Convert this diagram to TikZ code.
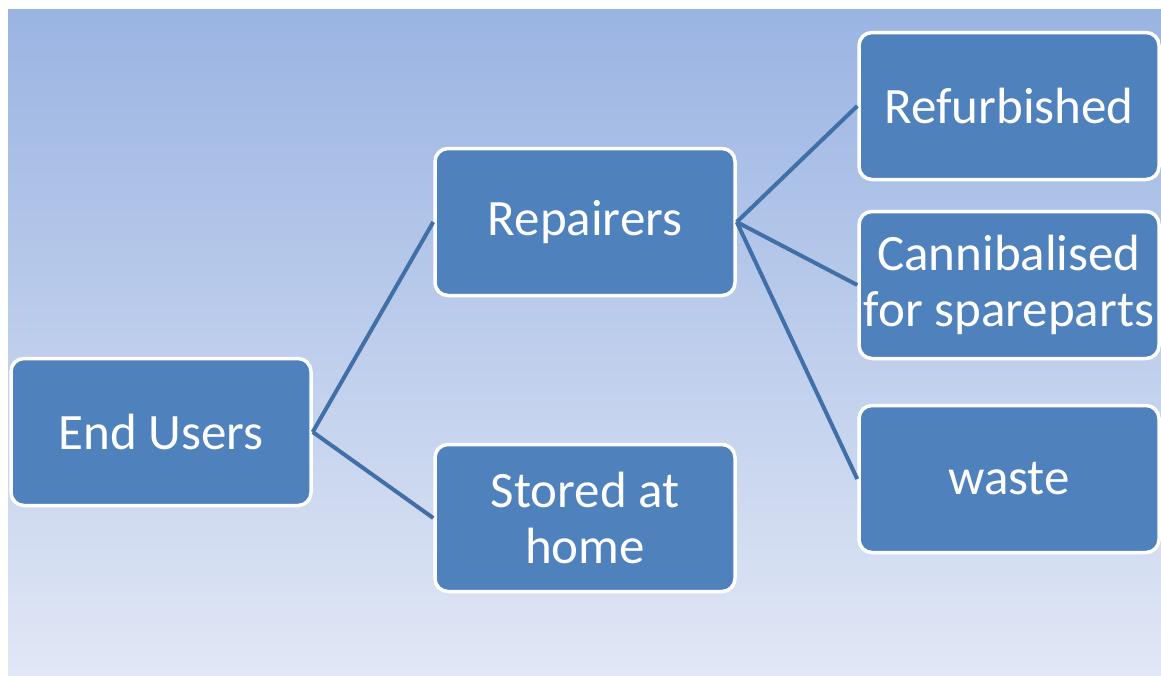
\documentclass[tikz,border=0pt]{standalone}
\usepackage{fontspec}
\setmainfont{Carlito}
\usetikzlibrary{positioning}
\definecolor{boxblue}{HTML}{4F81BD}
\definecolor{linkblue}{HTML}{416FA8}
\definecolor{bgtop}{HTML}{9AB4E2}
\definecolor{bgbottom}{HTML}{E1E7F5}
\tikzset{
	stage/.style={draw=white, line width=3.5pt, fill=boxblue, rounded corners=13pt,
		minimum width=300pt, minimum height=147pt, text=white, align=center,
		font=\fontsize{51}{56}\selectfont, inner sep=0pt},
	link/.style={draw=linkblue, line width=4pt}
}
\begin{document}
\begin{tikzpicture}[x=1pt, y=-1pt]
			%%%%% BACKGROUND %%%%%
			\useasboundingbox (0, 0) rectangle (1161, 675);
			\fill[white] (0, 0) rectangle (1161, 675);
			\shade[top color=bgtop, bottom color=bgbottom] (8, 9) rectangle (1161, 675);
			
			%%%%% BOXES %%%%%
			\node[stage] (users) at (161, 432) {End Users};
			\node[stage] (repairers) at (585, 222) {Repairers};
			\node[stage] (stored) at (585, 518) {Stored at\\home};
			\node[stage] (refurb) at (1009, 106) {Refurbished};
			\node[stage] (cannib) at (1009, 285) {Cannibalised\\for spareparts};
			\node[stage] (waste) at (1009, 479) {waste};
			
			%%%%% LINKS %%%%%
			\draw[link] (users.east) -- (repairers.west);
			\draw[link] (users.east) -- (stored.west);
			\draw[link] (repairers.east) -- (refurb.west);
			\draw[link] (repairers.east) -- (cannib.west);
			\draw[link] (repairers.east) -- (waste.west);
			
		\end{tikzpicture}
\end{document}
